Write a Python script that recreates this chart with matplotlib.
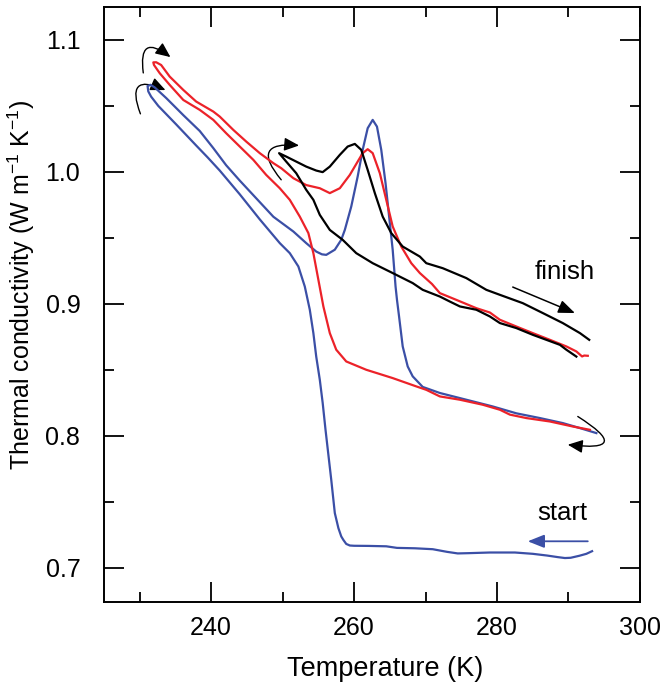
import matplotlib
matplotlib.use("Agg")
import matplotlib.pyplot as plt
from matplotlib.patches import FancyArrowPatch
from matplotlib.ticker import MultipleLocator

plt.rcParams['font.family'] = ['Liberation Sans', 'DejaVu Sans']
plt.rcParams['mathtext.fontset'] = 'custom'
plt.rcParams['mathtext.rm'] = 'Liberation Sans'
plt.rcParams['mathtext.it'] = 'Liberation Sans:italic'

BLUE = '#3b4fa6'
RED = '#ec2229'

# first run: cooling from "start", then heating back (blue)
blue_T = [293.3, 292.5, 291.5, 290.3, 289.5, 288.5, 287.0, 285.0, 282.5, 279.0,
          276.0, 274.5, 273.0, 271.0, 268.5, 266.0, 264.5, 262.0, 260.0, 259.4,
          258.9, 258.5, 258.2, 257.8, 257.3, 256.8, 256.0, 255.6, 255.2, 254.7,
          254.3, 253.8, 253.1, 252.2, 251.0, 249.6, 248.2, 246.8, 244.0, 241.2,
          239.5, 237.9, 235.1, 232.6, 231.6, 231.2, 231.1, 231.5, 232.1, 233.7,
          236.1, 238.4, 240.3, 242.1, 244.0, 246.3, 248.7, 249.6, 251.5, 253.3,
          254.7, 255.5, 256.1, 257.3, 258.2, 258.7, 259.6, 260.5, 261.2, 261.9,
          262.6, 263.2, 263.8, 264.4, 264.9, 265.4, 265.8, 266.0, 266.3, 266.8,
          267.5, 268.2, 269.6, 272.0, 275.7, 279.4, 282.7, 286.0, 289.2, 291.6,
          293.9]
blue_k = [0.7125, 0.7105, 0.7090, 0.7075, 0.7073, 0.7080, 0.7092, 0.7105, 0.7115, 0.7115,
          0.7110, 0.7108, 0.7120, 0.7140, 0.7147, 0.7150, 0.7162, 0.7165, 0.7166, 0.7168,
          0.7180, 0.7210, 0.7237, 0.7300, 0.7414, 0.7667, 0.8045, 0.825, 0.8424, 0.860,
          0.8778, 0.8955, 0.9131, 0.9283, 0.9384, 0.946, 0.955, 0.964, 0.983, 1.001,
          1.011, 1.020, 1.036, 1.050, 1.057, 1.061, 1.065, 1.066, 1.064, 1.056,
          1.043, 1.031, 1.018, 1.005, 0.9934, 0.980, 0.966, 0.9624, 0.9548, 0.946,
          0.9396, 0.9375, 0.9371, 0.941, 0.9485, 0.956, 0.9737, 0.9965, 1.0167, 1.0331,
          1.0394, 1.0343, 1.0167, 0.9914, 0.9661, 0.9409, 0.9131, 0.903, 0.890, 0.8677,
          0.8525, 0.845, 0.837, 0.8324, 0.8273, 0.8222, 0.817, 0.8134, 0.8096, 0.8058,
          0.802]

# second run (red)
red_T = [293.0, 290.6, 287.4, 284.1, 281.8, 280.4, 278.0, 274.8, 272.0, 270.1,
         268.7, 265.4, 261.7, 258.9, 257.5, 256.6, 255.7, 255.0, 254.3, 253.6,
         252.4, 251.0, 249.6, 247.7, 245.9, 244.0, 242.1, 240.3, 238.4, 236.1,
         234.2, 232.8, 232.0, 231.9, 232.3, 233.0, 234.2, 236.1, 237.9, 240.3,
         241.2, 243.1, 244.9, 246.8, 248.7, 249.8, 251.5, 253.3, 255.2, 256.6,
         258.0, 259.4, 260.5, 261.2, 261.9, 262.6, 263.6, 264.5, 265.4, 266.6,
         268.0, 269.2, 270.9, 272.0, 274.3, 277.1, 279.0, 280.4, 282.7, 285.0,
         287.4, 289.7, 291.1, 291.9, 292.2, 292.7]
red_k = [0.8045, 0.807, 0.8108, 0.8134, 0.816, 0.8197, 0.8235, 0.8273, 0.8298, 0.8348,
         0.8374, 0.8437, 0.850, 0.8563, 0.8652, 0.8778, 0.898, 0.9182, 0.9384, 0.9536,
         0.9661, 0.9788, 0.9876, 0.9977, 1.0091, 1.0192, 1.0293, 1.0394, 1.047, 1.0545,
         1.0659, 1.0748, 1.081, 1.083, 1.0831, 1.081, 1.0722, 1.0621, 1.0533, 1.0457,
         1.0419, 1.0318, 1.023, 1.0142, 1.0066, 1.0028, 0.9952, 0.990, 0.9876, 0.9839,
         0.9876, 0.9977, 1.0078, 1.0142, 1.0172, 1.0142, 0.999, 0.9788, 0.9586, 0.9434,
         0.9308, 0.9233, 0.915, 0.9081, 0.903, 0.8967, 0.8934, 0.8879, 0.8828, 0.8778,
         0.8727, 0.8677, 0.8639, 0.8601, 0.8608, 0.8606]

# third run (black)
black_T = [291.1, 289.7, 288.8, 286.9, 285.0, 282.7, 280.4, 279.0, 277.1, 274.8,
           273.4, 272.0, 269.6, 268.2, 265.4, 262.6, 260.3, 258.4, 256.6, 255.2,
           254.3, 253.3, 251.9, 250.5, 249.5, 250.5, 251.9, 253.3, 254.7, 255.6,
           256.6, 258.0, 259.1, 260.1, 261.0, 261.9, 262.9, 264.0, 265.2, 266.8,
           269.2, 270.1, 272.4, 275.7, 278.5, 280.4, 283.6, 286.4, 289.2, 291.6,
           292.9]
black_k = [0.860, 0.8652, 0.8689, 0.8727, 0.8765, 0.8816, 0.8854, 0.8904, 0.8955, 0.898,
           0.9017, 0.9055, 0.9106, 0.9157, 0.9233, 0.9308, 0.9384, 0.9485, 0.956, 0.9674,
           0.9788, 0.9864, 0.999, 1.0078, 1.0142, 1.0116, 1.0078, 1.004, 1.001, 0.9998,
           1.004, 1.0129, 1.0192, 1.0212, 1.0167, 1.0015, 0.9839, 0.9661, 0.9536, 0.9434,
           0.9358, 0.9308, 0.927, 0.9195, 0.9106, 0.9068, 0.9005, 0.893, 0.8854, 0.8778,
           0.8727]

# curved turn-around arrows: (tail, head, rad)
curls = [((230.5, 1.075), (234.3, 1.087), -1.2),
         ((230.1, 1.044), (233.6, 1.062), -1.2),
         ((249.8, 0.994), (252.3, 1.020), -1.2),
         ((291.3, 0.8146), (289.9, 0.7932), -2.2)]

fig = plt.figure(figsize=(6.64, 6.89), dpi=100)
ax = fig.add_axes([0.1566, 0.1263, 0.8072, 0.8636])

ax.plot(blue_T, blue_k, color=BLUE, lw=1.6, solid_joinstyle='round')
ax.plot(red_T, red_k, color=RED, lw=1.6, solid_joinstyle='round')
ax.plot(black_T, black_k, color='black', lw=1.6, solid_joinstyle='round')

for tail, head, rad in curls:
    ax.add_patch(FancyArrowPatch(tail, head, connectionstyle=f"arc3,rad={rad}",
                                 arrowstyle='-|>,head_length=0.45,head_width=0.2',
                                 mutation_scale=20, lw=1.0, color='black',
                                 shrinkA=0, shrinkB=0))

ax.annotate('', xy=(290.9, 0.893), xytext=(282.2, 0.9127),
            arrowprops=dict(arrowstyle='-|>,head_length=0.5,head_width=0.2',
                            mutation_scale=20, lw=1.1, color='black',
                            shrinkA=0, shrinkB=0))
ax.annotate('', xy=(284.3, 0.720), xytext=(292.7, 0.720),
            arrowprops=dict(arrowstyle='-|>,head_length=0.5,head_width=0.2',
                            mutation_scale=20, lw=1.3, color=BLUE,
                            shrinkA=0, shrinkB=0))
ax.text(289.5, 0.924, 'finish', fontsize=18.5, ha='center', va='center')
ax.text(289.2, 0.7414, 'start', fontsize=18.5, ha='center', va='center')

ax.set_xlim(225, 300)
ax.set_ylim(0.674, 1.125)
ax.xaxis.set_minor_locator(MultipleLocator(10))
ax.yaxis.set_minor_locator(MultipleLocator(0.05))
ax.set_xticks([240, 260, 280, 300])
ax.set_yticks([0.7, 0.8, 0.9, 1.0, 1.1])
ax.set_yticklabels(['0.7', '0.8', '0.9', '1.0', '1.1'])

ax.tick_params(which='both', direction='in', top=True, right=True, width=1.3)
ax.tick_params(which='major', length=14.5)
ax.tick_params(which='minor', length=7.2)
ax.tick_params(axis='x', which='major', labelsize=18, pad=10)
ax.tick_params(axis='y', which='major', labelsize=18, pad=17)
for s in ax.spines.values():
    s.set_linewidth(1.4)

ax.set_xlabel('Temperature (K)', fontsize=19.5)
ax.set_ylabel(r'Thermal conductivity (W m$^{-1}$ K$^{-1}$)', fontsize=18)
ax.xaxis.set_label_coords(0.524, -0.091)
ax.yaxis.set_label_coords(-0.125, 0.533)

fig.savefig('out.png', dpi=100)
